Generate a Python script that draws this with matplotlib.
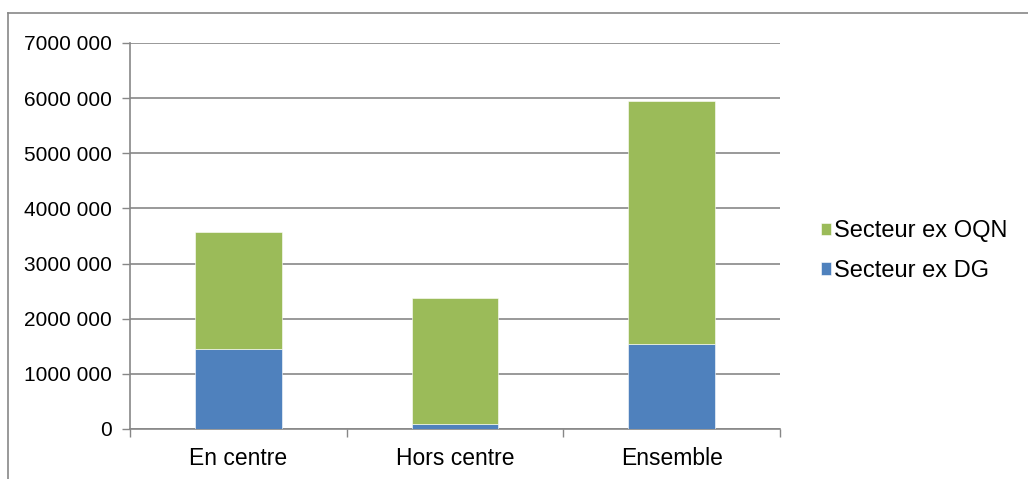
import matplotlib
matplotlib.use("Agg")
import matplotlib.pyplot as plt
from matplotlib.lines import Line2D

plt.rcParams['font.family'] = ['Liberation Sans', 'DejaVu Sans']

# Data
categories = ['En centre', 'Hors centre', 'Ensemble']
secteur_dg = [1450000, 95000, 1545000]
secteur_oqn = [2115000, 2280000, 4405000]
y_ticks = [0, 1000000, 2000000, 3000000, 4000000, 5000000, 6000000, 7000000]
y_tick_labels = ['0', '1000 000', '2000 000', '3000 000', '4000 000',
                 '5000 000', '6000 000', '7000 000']

blue = '#4F81BD'
green = '#9BBB59'
grid_gray = '#878787'

fig = plt.figure(figsize=(10.28, 4.79), dpi=100)
ax = fig.add_axes([130 / 1028, 1 - 429 / 479, 650 / 1028, (429 - 43) / 479])

x = list(range(len(categories)))
ax.bar(x, secteur_dg, width=0.4, color=blue, edgecolor='white', linewidth=0.4,
       label='Secteur ex DG', zorder=3)
ax.bar(x, secteur_oqn, width=0.4, bottom=secteur_dg, color=green,
       edgecolor='white', linewidth=0.4, label='Secteur ex OQN', zorder=3)

ax.set_xlim(-0.5, len(categories) - 0.5)
ax.set_ylim(0, 7000000)
ax.set_yticks(y_ticks)
ax.set_yticklabels(y_tick_labels)
ax.yaxis.grid(True, color=grid_gray, linewidth=1.2, zorder=0)

# category labels centered, ticks at boundaries
ax.set_xticks(x)
ax.set_xticklabels(categories)
ax.tick_params(axis='x', which='major', length=0, pad=13, labelsize=16.5)
ax.set_xticks([-0.5, 0.5, 1.5, 2.5], minor=True)
ax.tick_params(axis='x', which='minor', length=6, width=1, color=grid_gray)
ax.tick_params(axis='y', length=6, width=1, color=grid_gray, pad=7, labelsize=15)

for s in ['top', 'right']:
    ax.spines[s].set_visible(False)
for s in ['left', 'bottom']:
    ax.spines[s].set_color(grid_gray)
    ax.spines[s].set_linewidth(1.2)

handles, labels = ax.get_legend_handles_labels()
fig.legend(handles[::-1], labels[::-1], loc='center left',
           bbox_to_anchor=(821 / 1028, 1 - 251 / 479), frameon=False, fontsize=17,
           handlelength=0.42, handleheight=0.42, handletextpad=0.15,
           labelspacing=0.75, borderpad=0, borderaxespad=0)

# outer chart border (top and left visible in the reference)
fig.add_artist(Line2D([8 / 1028, 8 / 1028], [0, 1 - 13 / 479],
                      transform=fig.transFigure, color=grid_gray, linewidth=1.2))
fig.add_artist(Line2D([8 / 1028, 1], [1 - 13 / 479, 1 - 13 / 479],
                      transform=fig.transFigure, color=grid_gray, linewidth=1.2))

fig.savefig('out.png', dpi=100)
